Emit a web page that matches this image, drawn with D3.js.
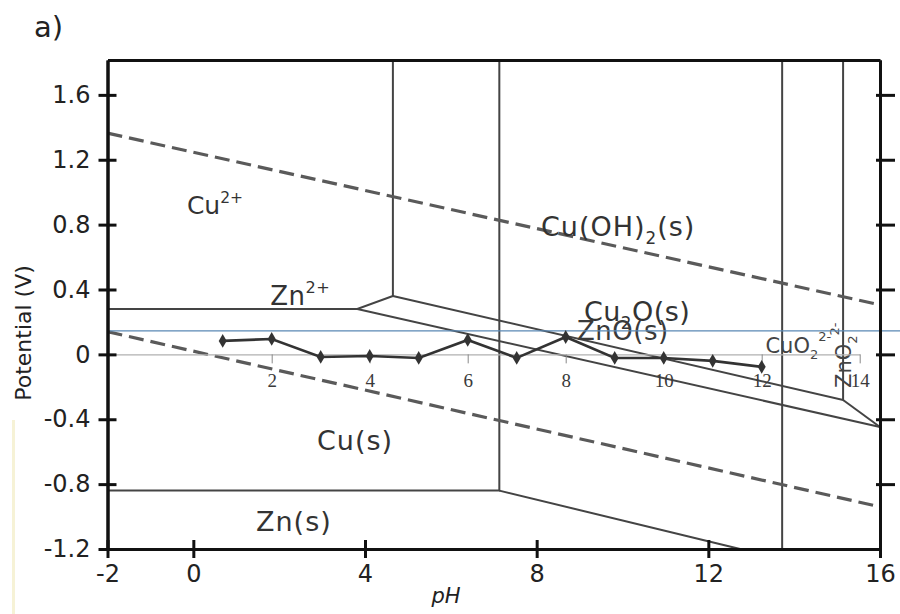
<!DOCTYPE html>
<html>
<head>
<meta charset="utf-8">
<script src="https://cdn.jsdelivr.net/npm/d3@7"></script>
<style>
  html, body { margin: 0; padding: 0; background: #fff; }
  svg { display: block; }
</style>
</head>
<body>
<script>
// ---------- data ----------
const yTicks = [-1.2, -0.8, -0.4, 0, 0.4, 0.8, 1.2, 1.6];
const xTicks = [-2, 0, 4, 8, 12, 16];
const yTickLabels = ["-1.2", "-0.8", "-0.4", "0", "0.4", "0.8", "1.2", "1.6"];
const xTickLabels = ["-2", "0", "4", "8", "12", "16"];

// Pourbaix boundary lines: [pH, potential V]
const boundaryZn2Cu = [[-2, 0.28], [3.82, 0.28], [4.65, 0.36], [4.65, 1.815]];
const boundaryCu2OTop = [[4.65, 0.36], [15.14, -0.281], [15.14, 1.815]];
const boundaryCu2OBottom = [[3.82, 0.28], [16, -0.448]];
const boundaryCuO2 = [[15.14, -0.281], [16, -0.448]];
const boundaryZnS = [[7.13, 1.815], [7.13, -0.84], [-2, -0.84]];
const boundaryZnSZnO = [[7.13, -0.84], [12.74, -1.2]];
const boundaryPH137 = [[13.72, 1.815], [13.72, -1.2]];
const solidLines = [boundaryZn2Cu, boundaryCu2OTop, boundaryCu2OBottom, boundaryCuO2,
                    boundaryZnS, boundaryZnSZnO, boundaryPH137];

// water stability lines (dashed)
const waterO2 = [[-2, 1.364], [16, 0.305]];
const waterH2 = [[-2, 0.14], [16, -0.94]];
const dashedLines = [waterO2, waterH2];

// overlaid measured series
const insetPH = [1, 2, 3, 4, 5, 6, 7, 8, 9, 10, 11, 12];
const insetE = [0.083, 0.095, -0.016, -0.010, -0.022, 0.089, -0.022, 0.107, -0.022, -0.022, -0.040, -0.077];
const insetTicks = [2, 4, 6, 8, 10, 12, 14];
const refLineE = 0.145;

// ---------- layout ----------
const W = 900, H = 614;
const svg = d3.select("body").append("svg").attr("width", W).attr("height", H);

const x = d3.scaleLinear().domain([-2, 16]).range([107.5, 880]);
const y = d3.scaleLinear().domain([-1.2, 1.815]).range([549, 60]);
const ix = d3.scaleLinear().domain([-1.3, 14]).range([110, 859.7]);

const FONT = "'DejaVu Sans', Verdana, sans-serif";
const SERIF = "'Liberation Serif', 'DejaVu Serif', serif";

// faint artefact strip on left
svg.append("rect").attr("x", 12).attr("y", 420).attr("width", 3).attr("height", 194).attr("fill", "#f6f2d6");

// "a)"
svg.append("text").attr("x", 34).attr("y", 37).attr("font-family", FONT).attr("font-size", 29)
  .attr("fill", "#222").text("a)");

const line = d3.line().x(d => x(d[0])).y(d => y(d[1]));

// solid boundaries
svg.append("g").selectAll("path").data(solidLines).join("path")
  .attr("d", line).attr("fill", "none").attr("stroke", "#444").attr("stroke-width", 2);

// dashed water lines
svg.append("g").selectAll("path").data(dashedLines).join("path")
  .attr("d", line).attr("fill", "none").attr("stroke", "#5a5a5a").attr("stroke-width", 3.2)
  .attr("stroke-dasharray", "15,7");

// region labels
function label(pH, V, parts, size, opts = {}) {
  const t = svg.append("text").attr("x", x(pH)).attr("y", y(V))
    .attr("font-family", opts.family || FONT).attr("font-size", size).attr("fill", opts.fill || "#333")
    .attr("letter-spacing", opts.ls || 0);
  if (opts.rotate) t.attr("transform", `rotate(${opts.rotate},${x(pH)},${y(V)})`);
  parts.forEach(p => {
    const ts = t.append("tspan").text(p.t);
    if (p.sub) ts.attr("font-size", size * 0.62).attr("dy", size * 0.28);
    if (p.sup) ts.attr("font-size", size * 0.62).attr("dy", -size * 0.45);
    if (p.back) ts.attr("dy", p.back);
  });
  return t;
}
label(-0.15, 0.866, [{t: "Cu"}, {t: "2+", sup: true}], 25);
label(8.1, 0.73, [{t: "Cu(OH)"}, {t: "2", sub: true}, {t: "(s)", back: -27 * 0.28}], 27, {ls: 1});
label(1.79, 0.305, [{t: "Zn"}, {t: "2+", sup: true}], 26, {ls: 0.5});
label(9.1, 0.206, [{t: "Cu"}, {t: "2", sub: true}, {t: "O(s)", back: -27 * 0.28}], 27, {ls: 0.5});
label(8.94, 0.089, [{t: "ZnO(s)"}], 26, {fill: "#3a3a3a", ls: 0.5});
label(2.88, -0.589, [{t: "Cu(s)"}], 27, {ls: 1});
label(1.46, -1.089, [{t: "Zn(s)"}], 27, {ls: 1});
label(13.33, 0.009, [{t: "CuO"}, {t: "2", sub: true}, {t: "2-", sup: true, back: -18}], 21, {fill: "#444"});
label(15.33, -0.207, [{t: "ZnO"}, {t: "2", sub: true}, {t: "2-", sup: true, back: -18}], 21, {fill: "#444", rotate: -90});

// overlay: reference line, inset axis, series
svg.append("line").attr("x1", 110).attr("x2", 900).attr("y1", y(refLineE)).attr("y2", y(refLineE))
  .attr("stroke", "#5a88b4").attr("stroke-width", 1.3);

const insetAxis = svg.append("g").attr("transform", `translate(0,${y(0)})`)
  .call(d3.axisBottom(ix).tickValues(insetTicks).tickSizeInner(9).tickSizeOuter(0).tickPadding(10));
insetAxis.select(".domain").attr("stroke", "#b0b0b0").attr("stroke-width", 1.2);
insetAxis.selectAll(".tick line").attr("stroke", "#888").attr("stroke-width", 1);
insetAxis.selectAll(".tick text").attr("font-family", SERIF).attr("font-size", 19).attr("fill", "#3a3a3a");

const seriesLine = d3.line().x((d, i) => ix(insetPH[i])).y(d => y(d));
svg.append("path").datum(insetE).attr("d", seriesLine).attr("fill", "none")
  .attr("stroke", "#333").attr("stroke-width", 2.6);
svg.append("g").selectAll("path").data(insetE).join("path")
  .attr("transform", (d, i) => `translate(${ix(insetPH[i])},${y(d)})`)
  .attr("d", d3.symbol(d3.symbolDiamond, 55)).attr("fill", "#333");

// ---------- main axes ----------
function styleAxis(g) {
  g.select(".domain").attr("stroke", "#111").attr("stroke-width", 3);
  g.selectAll(".tick line").attr("stroke", "#111").attr("stroke-width", 3);
  g.selectAll(".tick text").attr("font-family", FONT).attr("font-size", 24).attr("fill", "#222");
}
const fmtY = d => yTickLabels[yTicks.indexOf(d)];
const fmtX = d => xTickLabels[xTicks.indexOf(d)];

// left axis (ticks cross)
const gl = svg.append("g").attr("transform", `translate(${x(-2)},0)`)
  .call(d3.axisLeft(y).tickValues(yTicks).tickFormat(fmtY).tickSizeInner(9).tickSizeOuter(0).tickPadding(8));
styleAxis(gl);
const gl2 = svg.append("g").attr("transform", `translate(${x(-2)},0)`)
  .call(d3.axisRight(y).tickValues(yTicks).tickFormat("").tickSizeInner(9).tickSizeOuter(0));
styleAxis(gl2);

// right axis
const gr = svg.append("g").attr("transform", `translate(${x(16)},0)`)
  .call(d3.axisRight(y).tickValues(yTicks.slice(1)).tickFormat("").tickSizeInner(15).tickSizeOuter(0));
styleAxis(gr);
const gr2 = svg.append("g").attr("transform", `translate(${x(16)},0)`)
  .call(d3.axisLeft(y).tickValues(yTicks.slice(1)).tickFormat("").tickSizeInner(4).tickSizeOuter(0));
styleAxis(gr2);

// bottom axis
const gb = svg.append("g").attr("transform", `translate(0,${y(-1.2)})`)
  .call(d3.axisBottom(x).tickValues(xTicks).tickFormat(fmtX).tickSizeInner(9).tickSizeOuter(0).tickPadding(7));
styleAxis(gb);
const gb2 = svg.append("g").attr("transform", `translate(0,${y(-1.2)})`)
  .call(d3.axisTop(x).tickValues(xTicks).tickFormat("").tickSizeInner(9).tickSizeOuter(0));
styleAxis(gb2);

// top frame
const gt = svg.append("g").attr("transform", `translate(0,${y(1.815)})`)
  .call(d3.axisTop(x).tickValues([]).tickSizeOuter(0));
gt.select(".domain").attr("stroke", "#111").attr("stroke-width", 3);

// axis titles
svg.append("text").attr("transform", `translate(31,333) rotate(-90)`).attr("text-anchor", "middle")
  .attr("font-family", FONT).attr("font-size", 22).attr("fill", "#222").text("Potential (V)");
svg.append("text").attr("x", 446).attr("y", 603).attr("text-anchor", "middle")
  .attr("font-family", FONT).attr("font-size", 21).attr("font-style", "italic").attr("fill", "#222").text("pH");
</script>
</body>
</html>
